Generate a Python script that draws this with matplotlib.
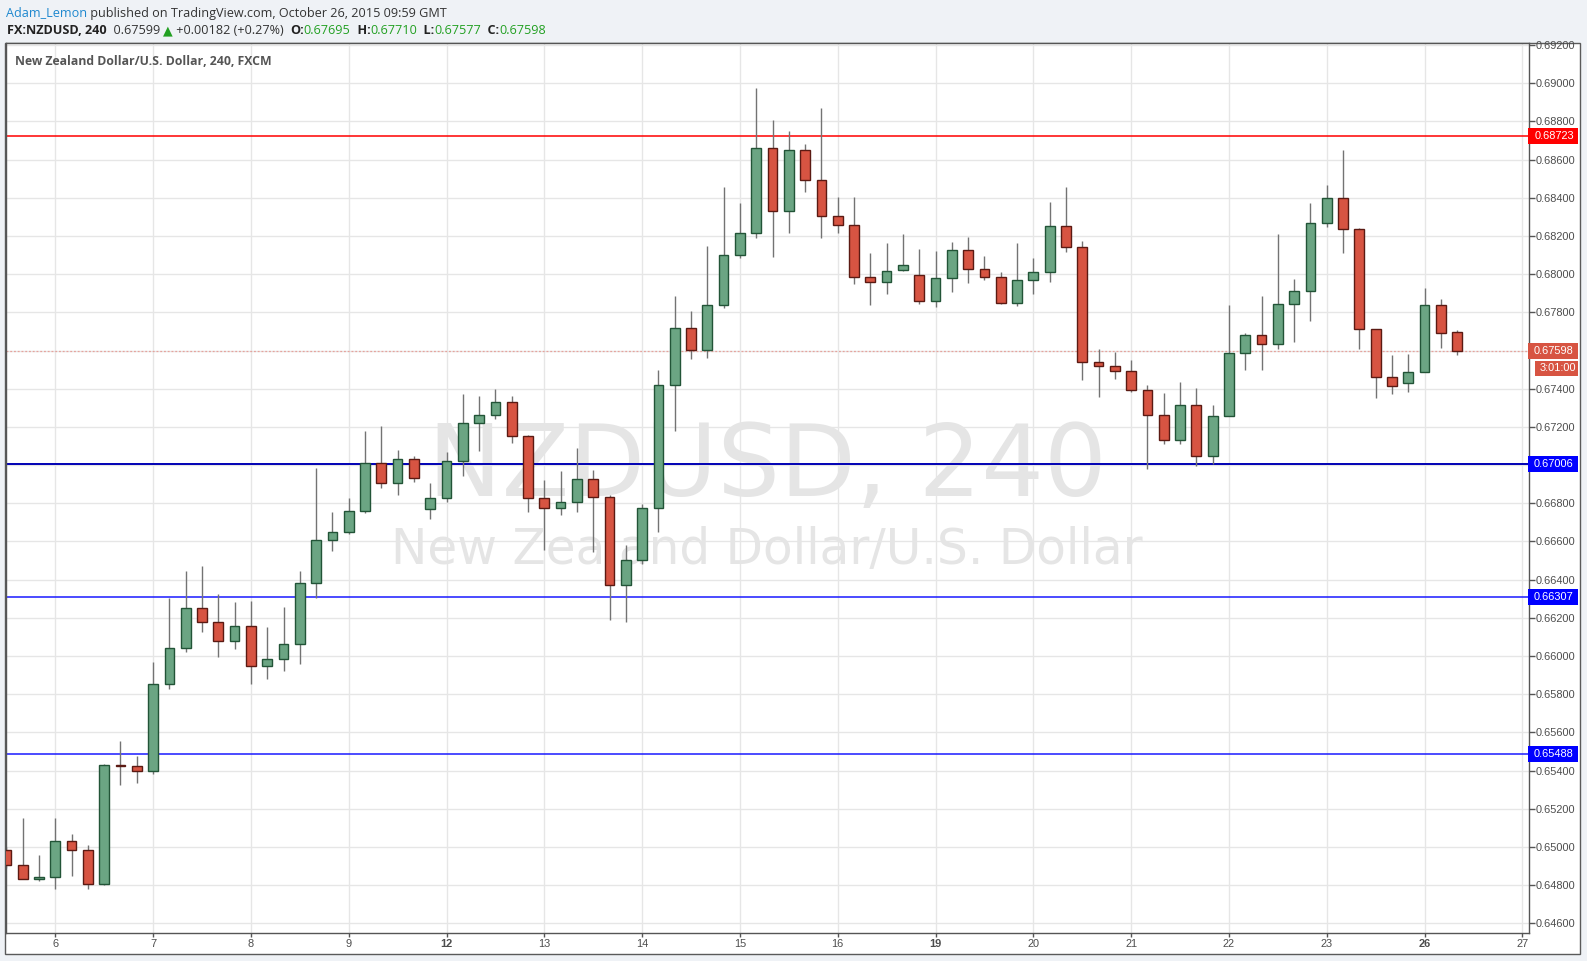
import matplotlib
matplotlib.use('Agg')
import matplotlib.pyplot as plt
import matplotlib.transforms as mtransforms
from matplotlib.patches import Rectangle

W, H = 1587, 961

# ---------------- data (4H bars, index 0 = first bar of Oct 6) ----------------
bars = list(range(-3, 87))
opens = [0.64984, 0.64905, 0.64832, 0.64842, 0.65033, 0.64984, 0.64805, 0.65428, 0.65425, 0.65395,
         0.65853, 0.66042, 0.66253, 0.66179, 0.66079, 0.66158, 0.65947, 0.65984, 0.66063, 0.66384,
         0.66607, 0.66649, 0.66759, 0.67011, 0.66906, 0.67032, 0.66770, 0.66827, 0.67022, 0.67221,
         0.67263, 0.67332, 0.67153, 0.66827, 0.66775, 0.66806, 0.66927, 0.66833, 0.66370, 0.66505,
         0.66775, 0.67421, 0.67716, 0.67603, 0.67836, 0.68098, 0.68215, 0.68661, 0.68329, 0.68650,
         0.68492, 0.68303, 0.68256, 0.67984, 0.67961, 0.68023, 0.67997, 0.67860, 0.67981, 0.68128,
         0.68028, 0.67986, 0.67850, 0.67970, 0.68012, 0.68253, 0.68143, 0.67541, 0.67520, 0.67494,
         0.67394, 0.67262, 0.67132, 0.67316, 0.67049, 0.67258, 0.67588, 0.67682, 0.67635, 0.67845,
         0.67913, 0.68270, 0.68401, 0.68239, 0.67715, 0.67463, 0.67432, 0.67489, 0.67840, 0.67695]
highs = [0.65000, 0.65149, 0.64958, 0.65149, 0.65068, 0.65012, 0.65435, 0.65554, 0.65477, 0.65970,
         0.66304, 0.66444, 0.66470, 0.66325, 0.66281, 0.66286, 0.66151, 0.66256, 0.66444, 0.66986,
         0.66756, 0.66829, 0.67181, 0.67207, 0.67081, 0.67048, 0.66908, 0.67066, 0.67375, 0.67360,
         0.67396, 0.67360, 0.67160, 0.66924, 0.66971, 0.67092, 0.66976, 0.66843, 0.66582, 0.66796,
         0.67496, 0.67884, 0.67806, 0.68147, 0.68457, 0.68372, 0.68973, 0.68809, 0.68751, 0.68682,
         0.68873, 0.68404, 0.68404, 0.68111, 0.68161, 0.68213, 0.68130, 0.68124, 0.68171, 0.68197,
         0.68093, 0.68014, 0.68161, 0.68087, 0.68376, 0.68459, 0.68176, 0.67606, 0.67590, 0.67548,
         0.67417, 0.67380, 0.67433, 0.67406, 0.67316, 0.67836, 0.67693, 0.67888, 0.68213, 0.67977,
         0.68371, 0.68466, 0.68649, 0.68244, 0.67715, 0.67575, 0.67580, 0.67926, 0.67868, 0.67710]
lows = [0.64890, 0.64832, 0.64821, 0.64777, 0.64847, 0.64782, 0.64800, 0.65325, 0.65333, 0.65382,
        0.65825, 0.66019, 0.66125, 0.65993, 0.66035, 0.65851, 0.65877, 0.65921, 0.65956, 0.66304,
        0.66551, 0.66638, 0.66747, 0.66878, 0.66841, 0.66910, 0.66715, 0.66805, 0.66941, 0.67073,
        0.67239, 0.67115, 0.66752, 0.66556, 0.66736, 0.66752, 0.66547, 0.66186, 0.66179, 0.66484,
        0.66652, 0.67181, 0.67556, 0.67560, 0.67824, 0.68083, 0.68192, 0.68091, 0.68218, 0.68428,
        0.68192, 0.68218, 0.67950, 0.67839, 0.67895, 0.68018, 0.67843, 0.67827, 0.67906, 0.67953,
        0.67969, 0.67843, 0.67833, 0.67895, 0.67958, 0.68115, 0.67445, 0.67356, 0.67450, 0.67382,
        0.66982, 0.67108, 0.67108, 0.66994, 0.67005, 0.67258, 0.67497, 0.67497, 0.67607, 0.67647,
        0.67755, 0.68249, 0.68111, 0.67606, 0.67352, 0.67373, 0.67383, 0.67489, 0.67612, 0.67577]
closes = [0.64905, 0.64832, 0.64842, 0.65033, 0.64984, 0.64805, 0.65428, 0.65425, 0.65395, 0.65853,
          0.66042, 0.66253, 0.66179, 0.66079, 0.66158, 0.65947, 0.65984, 0.66063, 0.66384, 0.66607,
          0.66649, 0.66759, 0.67011, 0.66906, 0.67032, 0.66932, 0.66827, 0.67022, 0.67221, 0.67263,
          0.67332, 0.67153, 0.66827, 0.66775, 0.66806, 0.66927, 0.66833, 0.66370, 0.66505, 0.66775,
          0.67421, 0.67716, 0.67603, 0.67836, 0.68098, 0.68215, 0.68661, 0.68329, 0.68650, 0.68492,
          0.68303, 0.68256, 0.67984, 0.67961, 0.68019, 0.68049, 0.67860, 0.67981, 0.68128, 0.68028,
          0.67986, 0.67850, 0.67970, 0.68012, 0.68253, 0.68143, 0.67541, 0.67520, 0.67494, 0.67394,
          0.67262, 0.67132, 0.67316, 0.67049, 0.67258, 0.67588, 0.67682, 0.67635, 0.67845, 0.67913,
          0.68270, 0.68401, 0.68239, 0.67715, 0.67463, 0.67416, 0.67489, 0.67840, 0.67694, 0.67598]

day_ticks = [0, 6, 12, 18, 24, 30, 36, 42, 48, 54, 60, 66, 72, 78, 84, 90]
day_labels = ['6', '7', '8', '9', '12', '13', '14', '15', '16', '19', '20', '21', '22', '23', '26', '27']
bold_days = ['12', '19', '26']

price_ticks = [0.646 + 0.002 * i for i in range(24)]

resistance = 0.68723
supports = [0.67006, 0.66307, 0.65488]
last_price = 0.67598
countdown = '3:01:00'

# ---------------- figure ----------------
fig = plt.figure(figsize=(W / 100, H / 100), dpi=100)
fig.patch.set_facecolor('#eff2f6')
renderer = fig.canvas.get_renderer()

def fx(px):
    return px / W

def fy(py):
    return 1 - py / H

# white chart frame
frame = Rectangle((fx(5), fy(954)), (1580 - 5) / W, (954 - 43) / H, transform=fig.transFigure,
                  facecolor='white', edgecolor='#5a5a5a', lw=1, zorder=-5)
fig.patches.append(frame)

ax = fig.add_axes([fx(6.3), fy(933), (1529 - 6.3) / W, (933 - 43) / H])
ax.set_facecolor('white')
ax.set_xlim(-3.006, 90.41)
ax.set_ylim(0.64549, 0.69211)

# grid
ax.set_axisbelow(True)
ax.set_xticks(day_ticks)
ax.set_yticks(price_ticks)
ax.grid(True, color='#e6e6e6', lw=1.0)

def fit_size(text, target_px, **kw):
    t = fig.text(0, 0, text, fontsize=10, **kw)
    w = t.get_window_extent(renderer).width
    t.remove()
    return 10 * target_px / w

# watermark (behind candles)
wm_font = 'DejaVu Sans'
s1 = fit_size('NZDUSD, 240', 676, family=wm_font)
s2 = fit_size('New Zealand Dollar/U.S. Dollar', 753, family=wm_font)
for txt, ybase, size in [('NZDUSD, 240', 496, s1), ('New Zealand Dollar/U.S. Dollar', 564, s2)]:
    ax.text(fx(767), fy(ybase), txt, fontsize=size, family=wm_font, color='#e5e5e5',
            ha='center', va='baseline', transform=fig.transFigure, zorder=0.6, clip_on=False)

# horizontal levels
ax.axhline(resistance, color='#ff0000', lw=1.1, zorder=1.5)
ax.axhline(supports[0], color='#0000b4', lw=1.4, zorder=1.5)
ax.axhline(supports[1], color='#1a1aff', lw=1.1, zorder=1.5)
ax.axhline(supports[2], color='#1a1aff', lw=1.1, zorder=1.5)
ax.axhline(last_price, color='#e6a39d', lw=0.9, ls=(0, (1.5, 1.5)), zorder=1.5)

# candles
up_face, up_edge = '#6ba583', '#225437'
dn_face, dn_edge = '#d75442', '#5b1a13'
for b, o, h, l, c in zip(bars, opens, highs, lows, closes):
    ax.vlines(b, l, h, color='#737373', lw=1.0, zorder=2)
for b, o, h, l, c in zip(bars, opens, highs, lows, closes):
    up = c >= o
    bottom = min(o, c)
    height = max(abs(c - o), 0.00002)
    ax.bar(b, height, bottom=bottom, width=0.6,
           color=up_face if up else dn_face,
           edgecolor=up_edge if up else dn_edge, lw=1.0, zorder=3)

# axes styling
for side in ['left', 'right', 'bottom', 'top']:
    ax.spines[side].set_color('#555555')
    ax.spines[side].set_linewidth(1.0)

lab_font = 'Liberation Sans'
ax.yaxis.tick_right()
ax.set_yticklabels(['%.5f' % p for p in price_ticks])
ax.tick_params(axis='y', which='both', direction='out', length=4, width=1, color='#555555',
               pad=1, labelsize=7.9, labelcolor='#4d4d4d')
ax.set_xticklabels(day_labels)
ax.tick_params(axis='x', which='both', direction='out', length=3, width=1, color='#555555',
               pad=1.5, labelsize=7.9, labelcolor='#4d4d4d')
for lab in ax.get_yticklabels() + ax.get_xticklabels():
    lab.set_family(lab_font)
for lab in ax.get_xticklabels():
    if lab.get_text() in bold_days:
        lab.set_fontweight('bold')

# price boxes at right
blend = mtransforms.blended_transform_factory(fig.transFigure, ax.transData)
px_per_unit = (933 - 43) / (0.69211 - 0.64549)

def price_box(price, text, bg, x0=1528, x1=1578, hpx=16, ycenter=None):
    yc = price if ycenter is None else ycenter
    hh = hpx / px_per_unit
    r = Rectangle((fx(x0), yc - hh / 2), (x1 - x0) / W, hh, transform=blend,
                  facecolor=bg, edgecolor='none', clip_on=False, zorder=10)
    ax.add_patch(r)
    ax.text(fx((x0 + x1) / 2 + 1), yc, text, transform=blend, ha='center', va='center',
            color='white', fontsize=7.9, family=lab_font, clip_on=False, zorder=11)

price_box(resistance, '%.5f' % resistance, '#ff0000')
price_box(last_price, '%.5f' % last_price, '#d75442')
cd_center = last_price - 17.5 / px_per_unit
price_box(last_price, countdown, '#d75442', x0=1535, hpx=15, ycenter=cd_center)
for s in supports:
    price_box(s, '%.5f' % s, '#0000ff')

# ---------------- header texts ----------------
hdr_font = ['Open Sans', 'DejaVu Sans']

def draw_seq(pieces, x0, ybase, size):
    x = x0
    for text, color, weight in pieces:
        t = fig.text(fx(x), fy(ybase), text, fontsize=size, family=hdr_font, color=color,
                     fontweight=weight, ha='left', va='baseline')
        x += t.get_window_extent(renderer).width

line1 = [('Adam_Lemon', '#1e88cf', 'normal'),
         (' published on TradingView.com, October 26, 2015 09:59 GMT', '#333333', 'normal')]
size1 = fit_size(''.join(p[0] for p in line1), 437, family=hdr_font)
draw_seq(line1, 6, 16.5, size1)

green = '#22a022'
line2 = [('FX:NZDUSD, 240', '#222222', 'bold'),
         ('  0.67599 ', '#333333', 'normal'),
         ('\u25B2', green, 'normal'),
         (' +0.00182 (+0.27%)  ', '#333333', 'normal'),
         ('O:', '#222222', 'bold'), ('0.67695', green, 'normal'),
         ('  H:', '#222222', 'bold'), ('0.67710', green, 'normal'),
         ('  L:', '#222222', 'bold'), ('0.67577', green, 'normal'),
         ('  C:', '#222222', 'bold'), ('0.67598', green, 'normal')]
tot = 0
for text, color, weight in line2:
    t = fig.text(0, 0, text, fontsize=10, family=hdr_font, fontweight=weight)
    tot += t.get_window_extent(renderer).width
    t.remove()
size2 = 10 * 542 / tot
draw_seq(line2, 7, 34, size2)

title = 'New Zealand Dollar/U.S. Dollar, 240, FXCM'
st = fit_size(title, 258, family=hdr_font, fontweight='bold')
fig.text(fx(15), fy(65), title, fontsize=st, family=hdr_font, fontweight='bold',
         color='#555555', ha='left', va='baseline')

fig.savefig('out.png', dpi=100, facecolor=fig.get_facecolor())
